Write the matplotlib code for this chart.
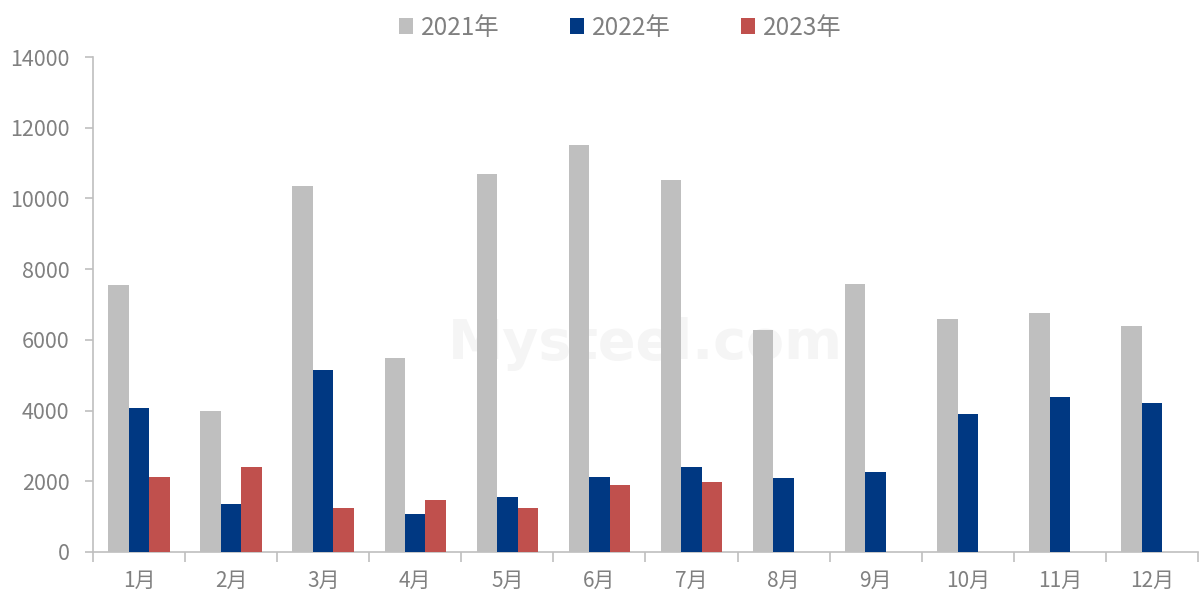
import matplotlib
matplotlib.use("Agg")
import matplotlib.pyplot as plt
import numpy as np

plt.rcParams['font.family'] = ['Noto Sans CJK SC', 'DejaVu Sans']

months = ["1月", "2月", "3月", "4月", "5月", "6月", "7月", "8月", "9月", "10月", "11月", "12月"]
series_names = ["2021年", "2022年", "2023年"]
v2021 = [7550, 3980, 10350, 5500, 10680, 11500, 10520, 6280, 7580, 6600, 6750, 6400]
v2022 = [4060, 1350, 5150, 1075, 1555, 2130, 2410, 2100, 2250, 3900, 4370, 4200]
v2023 = [2130, 2400, 1235, 1470, 1235, 1900, 1980, np.nan, np.nan, np.nan, np.nan, np.nan]
colors = ["#BFBFBF", "#003882", "#C0504D"]
yticks = [0, 2000, 4000, 6000, 8000, 10000, 12000, 14000]

fig = plt.figure(figsize=(12.04, 5.99), dpi=100)
ax = fig.add_axes([0.0772, 0.0785, 0.9178, 0.8263])

x = np.arange(len(months))
w = 0.222
for i, (vals, c, name) in enumerate(zip([v2021, v2022, v2023], colors, series_names)):
    ax.bar(x + (i - 1) * w, vals, width=w, color=c, label=name, zorder=3)

# faint watermark
ax.text(0.5, 0.42, "Mysteel.com", transform=ax.transAxes, ha="center", va="center",
        fontsize=40, fontweight="bold", color="#F5F5F5", zorder=0, family="DejaVu Sans")

ax.set_xlim(-0.5, len(months) - 0.5)
ax.set_ylim(0, 14000)
ax.set_yticks(yticks)
ax.set_yticklabels([str(t) for t in yticks])
ax.set_xticks(x)
ax.set_xticklabels(months)
ax.set_xticks(np.arange(-0.5, len(months), 1.0), minor=True)

for s in ["top", "right"]:
    ax.spines[s].set_visible(False)
for s in ["left", "bottom"]:
    ax.spines[s].set_color("#BFBFBF")
    ax.spines[s].set_linewidth(1.2)

ax.tick_params(axis="x", which="major", length=0, pad=13, labelsize=15, labelcolor="#808080")
ax.tick_params(axis="x", which="minor", length=7, width=1.2, color="#BFBFBF", direction="out")
ax.tick_params(axis="y", which="major", length=6, width=1.2, color="#BFBFBF", pad=11,
               labelsize=15.5, labelcolor="#808080")

leg = fig.legend(loc="upper center", bbox_to_anchor=(0.515, 1.012), ncol=3, frameon=False,
                 fontsize=17.5, handlelength=0.6, handleheight=0.6, handletextpad=0.3,
                 columnspacing=2.9, labelcolor="#808080")

fig.savefig("out.png", dpi=100, facecolor="white")
